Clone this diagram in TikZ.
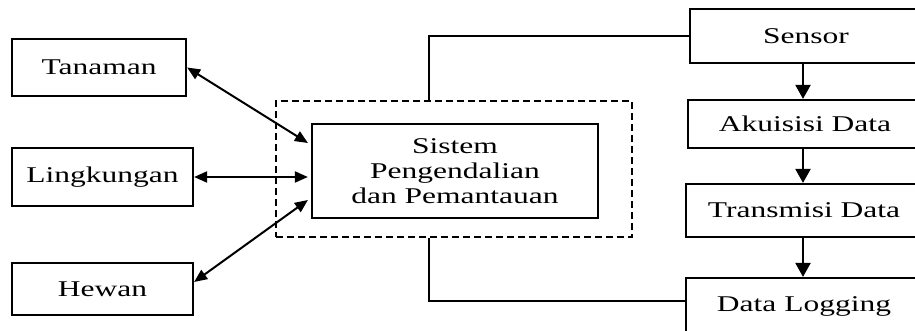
\documentclass[tikz,border=0pt]{standalone}
\usepackage{fontspec}
\newfontfamily\dfont[FakeStretch=1.4]{Liberation Serif}
\usetikzlibrary{arrows.meta}
\begin{document}
\begin{tikzpicture}[x=1pt,y=-1pt,
  box/.style={draw, line width=2.2pt, inner sep=0pt, align=center,
    font=\dfont\fontsize{22.5}{25}\selectfont},
  dbl/.style={line width=2pt, {Triangle[length=13pt,width=11pt]}-{Triangle[length=13pt,width=11pt]}},
  varr/.style={line width=2.2pt, -{Triangle[length=14pt,width=15pt]}},
  conn/.style={line width=2.2pt},
  dashbox/.style={draw, line width=2.2pt, dash pattern=on 7pt off 4pt, inner sep=0pt}]
\useasboundingbox (0,0) rectangle (915,331);
\clip (0,0) rectangle (915,331);
\node[dashbox, minimum width=356pt, minimum height=136pt] (outer) at (454,169) {};
\node[box, minimum width=286pt, minimum height=94pt] (sys) at (455,171) {Sistem\\Pengendalian\\dan Pemantauan};
\node[box, minimum width=174pt, minimum height=57pt] (tan) at (99,67.5) {Tanaman};
\node[box, minimum width=181pt, minimum height=58pt] (ling) at (102.5,177) {Lingkungan};
\node[box, minimum width=181pt, minimum height=52pt] (hew) at (102.5,289) {Hewan};
\node[box, minimum width=232pt, minimum height=54pt] (sens) at (806,36) {Sensor};
\node[box, minimum width=234pt, minimum height=48pt] (aku) at (805,124) {Akuisisi Data};
\node[box, minimum width=236pt, minimum height=53pt] (trans) at (804,210.5) {Transmisi Data};
\node[box, minimum width=236pt, minimum height=56pt] (dlog) at (804,306) {Data Logging};
\draw[dbl] (tan.east) -- ([yshift=28pt,xshift=-3pt]sys.west);
\draw[dbl] (ling.east) -- ([xshift=-3pt]ling.east -| sys.west);
\draw[dbl] ([yshift=7pt]hew.east) -- ([yshift=-29pt,xshift=-3pt]sys.west);
\draw[varr] ([xshift=-3pt]sens.south) -- ([xshift=-3pt]sens.south |- aku.north);
\draw[varr] ([xshift=-2pt]aku.south) -- ([xshift=-2pt]aku.south |- trans.north);
\draw[varr] ([xshift=-1pt]trans.south) -- ([xshift=-1pt]trans.south |- dlog.north);
\draw[conn] ([xshift=-25pt]outer.north) |- (sens.west);
\draw[conn] ([xshift=-25pt]outer.south) |- ([yshift=5pt]dlog.west);
\end{tikzpicture}
\end{document}
